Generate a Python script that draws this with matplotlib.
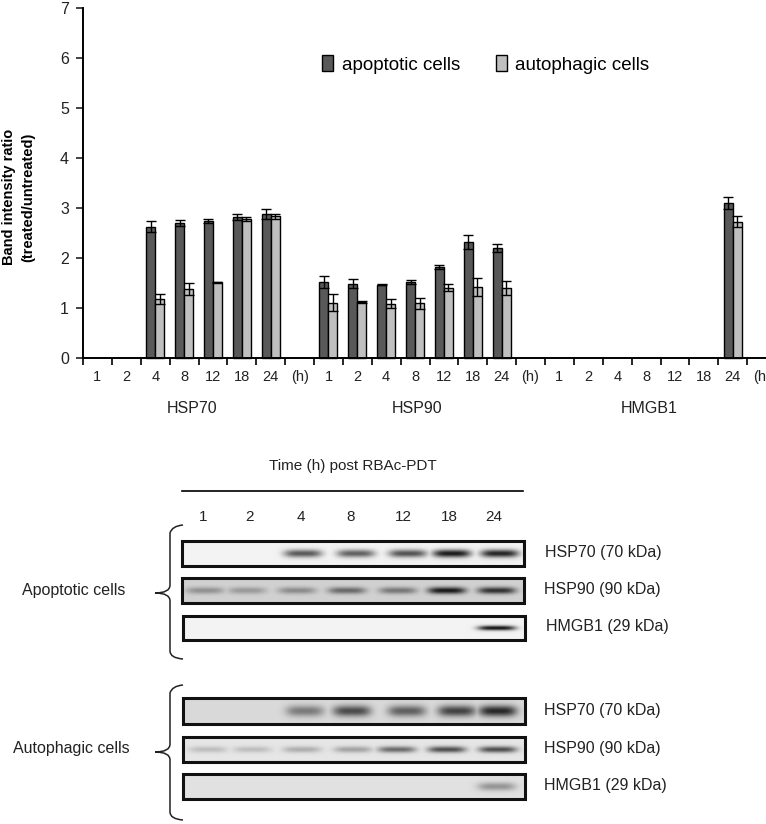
import numpy as np
import matplotlib
matplotlib.use("Agg")
import matplotlib.pyplot as plt
from matplotlib.path import Path
from matplotlib.patches import PathPatch

plt.rcParams["font.family"] = ["Liberation Sans", "DejaVu Sans"]

# bar chart values, None = no bar
hours = ["1", "2", "4", "8", "12", "18", "24", "(h)"]
groups = ["HSP70", "HSP90", "HMGB1"]

apop_hsp70 = [None, None, 2.62, 2.70, 2.74, 2.82, 2.88, None]
apop_hsp70_err = [0, 0, 0.11, 0.06, 0.04, 0.07, 0.10, 0]
auto_hsp70 = [None, None, 1.18, 1.37, 1.51, 2.78, 2.83, None]
auto_hsp70_err = [0, 0, 0.10, 0.12, 0.01, 0.04, 0.05, 0]

apop_hsp90 = [1.52, 1.49, 1.47, 1.52, 1.82, 2.32, 2.20, None]
apop_hsp90_err = [0.11, 0.09, 0.01, 0.04, 0.04, 0.14, 0.08, 0]
auto_hsp90 = [1.10, 1.11, 1.08, 1.09, 1.41, 1.42, 1.40, None]
auto_hsp90_err = [0.17, 0.02, 0.09, 0.11, 0.07, 0.18, 0.15, 0]

apop_hmgb1 = [None, None, None, None, None, None, 3.10, None]
apop_hmgb1_err = [0, 0, 0, 0, 0, 0, 0.13, 0]
auto_hmgb1 = [None, None, None, None, None, None, 2.72, None]
auto_hmgb1_err = [0, 0, 0, 0, 0, 0, 0.11, 0]

# blot lanes: centre x in pixels and band darkness per lane (0-1)
lane_labels = ["1", "2", "4", "8", "12", "18", "24"]
lane_label_x = [203, 250, 301, 351, 403, 449, 494]

apop_blots = [
    ("HSP70 (70 kDa)", [203, 250, 303, 356, 408, 452, 500], [0, 0, .65, .62, .68, .92, .88], 0.10),
    ("HSP90 (90 kDa)", [205, 247, 297, 347, 398, 447, 497], [.32, .28, .35, .52, .45, .92, .80], 0.08),
    ("HMGB1 (29 kDa)", [205, 247, 297, 347, 398, 447, 497], [0, 0, 0, 0, 0, 0, .95], 0.04),
]
auto_blots = [
    ("HSP70 (70 kDa)", [208, 252, 305, 352, 407, 457, 498], [0, 0, .45, .68, .58, .72, .85], 0.16),
    ("HSP90 (90 kDa)", [208, 252, 302, 353, 397, 447, 498], [.18, .18, .25, .30, .55, .68, .68], 0.07),
    ("HMGB1 (29 kDa)", [208, 252, 302, 353, 397, 447, 497], [0, 0, 0, 0, 0, 0, .35], 0.11),
]

W, H = 766, 824
fig = plt.figure(figsize=(W / 100, H / 100), dpi=100)

# upper bar chart
left, right, top, bottom = 83, 776, 8, 358
ax = fig.add_axes([left / W, 1 - bottom / H, (right - left) / W, (bottom - top) / H])
ax.set_clip_on(False)

apop = apop_hsp70 + apop_hsp90 + apop_hmgb1
apop_err = apop_hsp70_err + apop_hsp90_err + apop_hmgb1_err
auto = auto_hsp70 + auto_hsp90 + auto_hmgb1
auto_err = auto_hsp70_err + auto_hsp90_err + auto_hmgb1_err

x = np.arange(len(apop))
bar_w = 0.31
for vals, errs, col, off, lab in [(apop, apop_err, "#595959", -bar_w / 2, "apoptotic cells"),
                                  (auto, auto_err, "#bfbfbf", bar_w / 2, "autophagic cells")]:
    xs = [i + off for i, v in zip(x, vals) if v is not None]
    ys = [v for v in vals if v is not None]
    es = [e for v, e in zip(vals, errs) if v is not None]
    ax.bar(xs, ys, bar_w, color=col, edgecolor="black", linewidth=1, label=lab, clip_on=False)
    ax.errorbar(xs, ys, yerr=es, fmt="none", ecolor="black", elinewidth=1, capsize=3.5, capthick=1, clip_on=False)

ax.set_xlim(-0.5, 23.5)
ax.set_ylim(0, 7)
ax.set_yticks(range(8))
ax.tick_params(axis="y", labelsize=11.5, length=5, width=1.2, pad=5, colors="#222222")
ax.set_xticks(np.arange(-0.5, 24, 1))
ax.set_xticklabels([])
ax.tick_params(axis="x", which="major", length=5, width=1.2)
ax.set_xticks(x, minor=True)
ax.set_xticklabels(hours * 3, minor=True, fontsize=10.5, color="#222222")
ax.tick_params(axis="x", which="minor", length=0, pad=9)
for s in ["top", "right"]:
    ax.spines[s].set_visible(False)
for s in ["left", "bottom"]:
    ax.spines[s].set_linewidth(1.4)
ax.legend(loc="upper left", bbox_to_anchor=(0.345, 0.865), ncol=2, frameon=False, fontsize=13.5,
          handlelength=0.6, handleheight=0.9, handletextpad=0.45, columnspacing=1.9, borderpad=0, borderaxespad=0)

# pixel overlay for text and blots
ov = fig.add_axes([0, 0, 1, 1])
ov.set_xlim(0, W)
ov.set_ylim(H, 0)
ov.axis("off")
ov.patch.set_alpha(0)

ov.text(9, 197, "Band intensity ratio", rotation=90, ha="center", va="center", fontsize=10.5, fontweight="bold")
ov.text(28, 197, "(treated/untreated)", rotation=90, ha="center", va="center", fontsize=10.5, fontweight="bold")
for name, gx in zip(groups, [192, 417, 649]):
    ov.text(gx, 408, name, ha="center", va="center", fontsize=11.5, color="#222222")

ov.text(353, 466, "Time (h) post RBAc-PDT", ha="center", va="center", fontsize=11, color="#222222")
ov.plot([182, 523], [491, 491], color="black", lw=1.2)
for lab, lx in zip(lane_labels, lane_label_x):
    ov.text(lx, 517, lab, ha="center", va="center", fontsize=11, color="#222222")


def blot(x0, x1, y0, y1, centres, levels, width, bg, label, lx):
    # one western blot strip, bands drawn as soft blobs
    xx = np.linspace(x0, x1, (x1 - x0) * 2)
    yy = np.linspace(y0, y1, (y1 - y0) * 2)
    gx, gy = np.meshgrid(xx, yy)
    img = np.zeros_like(gx)
    ymid = (y0 + y1) / 2
    for c, lev in zip(centres, levels):
        if lev > 0:
            blob = np.exp(-(np.abs(gx - c) / 19) ** 4) * np.exp(-((gy - ymid) / ((y1 - y0) * width + 1.5)) ** 2)
            img = np.maximum(img, lev * blob)
    shade = bg * (1 - img) + 0.03 * img
    ov.imshow(shade, cmap="gray", vmin=0, vmax=1, extent=[x0, x1, y1, y0], aspect="auto", zorder=1)
    ov.add_patch(plt.Rectangle((x0, y0), x1 - x0, y1 - y0, fill=False, ec="#111111", lw=2.2, zorder=2))
    ov.text(lx, ymid - 1, label, ha="left", va="center", fontsize=11.5, color="#222222")


def brace(x, y0, ym, y1, tip_x):
    verts = [(x + 13, y0), (x + 2, y0 + 1), (x, y0 + 8), (x, ym - 8), (x, ym), (tip_x, ym),
             (x, ym), (x, ym + 8), (x, y1 - 8), (x, y1 - 1), (x + 13, y1)]
    codes = [Path.MOVETO, Path.CURVE3, Path.CURVE3, Path.LINETO, Path.CURVE3, Path.CURVE3,
             Path.CURVE3, Path.CURVE3, Path.LINETO, Path.CURVE3, Path.CURVE3]
    ov.add_patch(PathPatch(Path(verts, codes), fill=False, ec="#222222", lw=1.1))


apop_rows = [(182, 524, 541, 566, 0.95, 545), (182, 524, 578, 603, 0.82, 544), (183, 525, 616, 640, 0.95, 546)]
auto_rows = [(183, 525, 698, 724, 0.85, 544), (183, 525, 737, 762, 0.90, 544), (183, 525, 774, 799, 0.88, 544)]
for rows, blots in [(apop_rows, apop_blots), (auto_rows, auto_blots)]:
    for (x0, x1, y0, y1, bg, lx), (label, centres, levels, width) in zip(rows, blots):
        blot(x0, x1, y0, y1, centres, levels, width, bg, label, lx)
ov.set_xlim(0, W)
ov.set_ylim(H, 0)

brace(170, 525, 593, 659, 155)
brace(170, 685, 752, 820, 155)
ov.text(74, 591, "Apoptotic cells", ha="center", va="center", fontsize=11.5, color="#222222")
ov.text(71, 749, "Autophagic cells", ha="center", va="center", fontsize=11.5, color="#222222")

fig.savefig("out.png", dpi=100)
